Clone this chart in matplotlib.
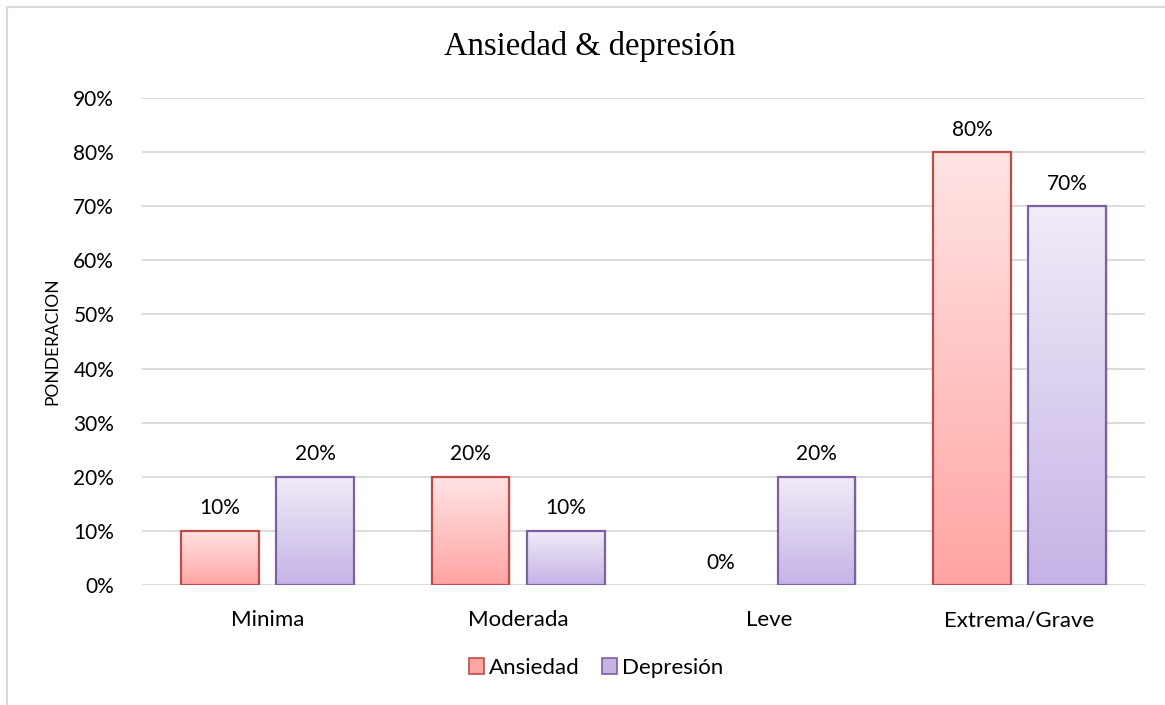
import numpy as np
import matplotlib
matplotlib.use("Agg")
import matplotlib.pyplot as plt
from matplotlib.colors import LinearSegmentedColormap
from matplotlib.patches import Rectangle
from matplotlib.lines import Line2D

categories = ["Minima", "Moderada", "Leve", "Extrema/Grave"]
ansiedad = [0.10, 0.20, 0.00, 0.80]
depresion = [0.20, 0.10, 0.20, 0.70]
series_names = ["Ansiedad", "Depresión"]
yticks = [0.0, 0.1, 0.2, 0.3, 0.4, 0.5, 0.6, 0.7, 0.8, 0.9]

# top colour, bottom colour, edge colour for each series
styles = [
    ("#FFE4E4", "#FFA5A3", "#BE4B48"),
    ("#F1ECF8", "#C5B3E6", "#7D60A0"),
]

plt.rcParams["font.family"] = ["Lato", "DejaVu Sans"]

fig = plt.figure(figsize=(11.65, 7.05), dpi=100)
ax = fig.add_axes([0.1219, 0.1702, 0.8609, 0.6908])

# chart frame (only the left and top edges fall inside the image)
fig.add_artist(Line2D([7 / 1165, 7 / 1165], [0, 1 - 7 / 705], transform=fig.transFigure,
                      color="#D9D9D9", lw=1.5))
fig.add_artist(Line2D([7 / 1165, 1], [1 - 7 / 705, 1 - 7 / 705], transform=fig.transFigure,
                      color="#D9D9D9", lw=1.5))

x = np.arange(len(categories))
width = 0.31
offsets = [-0.19, 0.19]

for values, off, (top, bottom, edge) in zip([ansiedad, depresion], offsets, styles):
    cmap = LinearSegmentedColormap.from_list("grad", [bottom, top])
    grad = np.linspace(0, 1, 256).reshape(-1, 1)
    for xi, v in zip(x, values):
        x0 = xi + off - width / 2
        if v > 0:
            # soft shadow to the right/bottom
            ax.add_patch(Rectangle((x0 + 0.006, -0.003), width, v, facecolor="#000000",
                                   alpha=0.08, edgecolor="none", zorder=2))
            ax.imshow(grad, extent=[x0, x0 + width, 0, v], origin="lower", cmap=cmap,
                      aspect="auto", zorder=3, interpolation="bicubic")
            ax.add_patch(Rectangle((x0, 0), width, v, facecolor="none", edgecolor=edge,
                                   lw=1.6, zorder=4))
        ax.annotate(f"{v * 100:.0f}%", (xi + off, v), xytext=(0, 9), textcoords="offset points",
                    ha="center", va="bottom", fontsize=15, color="#000000")

ax.set_xlim(-0.5, len(categories) - 0.5)
ax.set_ylim(0, 0.9)
ax.set_yticks(yticks)
ax.set_yticklabels([f"{t * 100:.0f}%" for t in yticks])
ax.set_xticks(x)
ax.set_xticklabels(categories)
ax.tick_params(axis="both", length=0, colors="#000000")
ax.tick_params(axis="y", pad=20, labelsize=15)
ax.tick_params(axis="x", pad=18, labelsize=16)
ax.yaxis.grid(True, color="#D9D9D9", lw=1.3)
ax.set_axisbelow(True)
for s in ax.spines.values():
    s.set_visible(False)

ax.set_ylabel("PONDERACION", fontsize=12.5, labelpad=9)
fig.text(590 / 1165, 1 - 46 / 705, "Ansiedad & depresión",
         family=["Liberation Serif", "DejaVu Serif"], fontsize=23.5, ha="center", va="center")

handles = [Rectangle((0, 0), 1, 1, facecolor=st[1], edgecolor=st[2], lw=1.2) for st in styles]
fig.legend(handles, series_names, loc="center", bbox_to_anchor=(596 / 1165, 1 - 668 / 705),
           ncol=2, frameon=False, fontsize=16, handlelength=0.7, handleheight=0.7,
           handletextpad=0.2, columnspacing=1.0)

fig.savefig("out.png", dpi=100)
